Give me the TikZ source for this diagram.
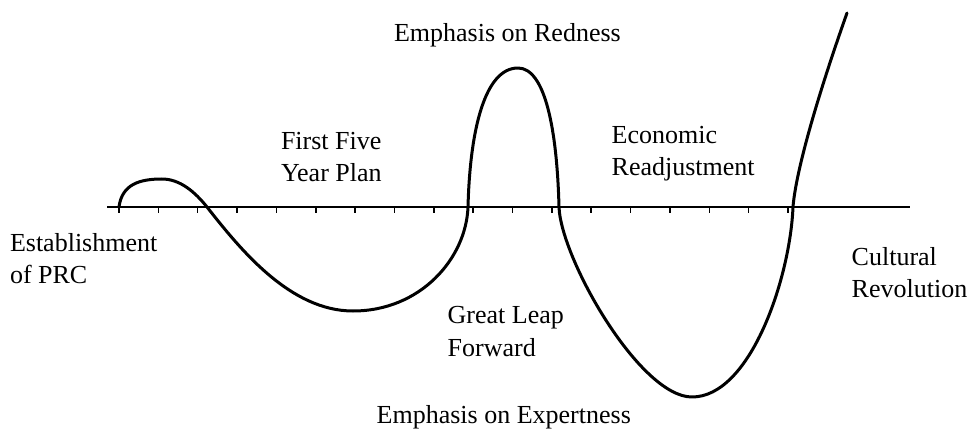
\documentclass[tikz,border=0pt]{standalone}
\usepackage{fontspec}
\setmainfont{Liberation Serif}
\begin{document}
\begin{tikzpicture}[x=1pt,y=1pt,
  lbl/.style={anchor=base west,inner sep=0pt,outer sep=0pt,align=left,
    font=\fontsize{26}{32.3}\selectfont},
  axisline/.style={line width=1.9pt},
  tickline/.style={line width=1.5pt},
  wave/.style={line width=3pt,line cap=round,line join=round}]
\useasboundingbox (0,0) rectangle (974,429);
% axis
\coordinate (axL) at (107,222);
\coordinate (axR) at (910,222);
\draw[axisline] (axL) -- (axR);
\foreach \i in {0,...,17}{
  \draw[tickline] ({119+39.35*\i},222) -- ({119+39.35*\i},216.5);
}
% curve key points
\coordinate (start) at (119,222);
\coordinate (bump) at (162,250);
\coordinate (c1) at (207,222);
\coordinate (m1) at (353,118);
\coordinate (c2) at (468,222);
\coordinate (p2) at (518,361);
\coordinate (c3) at (559,222);
\coordinate (m2) at (692,32);
\coordinate (c4) at (793,222);
\coordinate (fin) at (847,416);
\draw[wave] (start) .. controls (122,245) and (140,250) .. (bump)
  .. controls (180,250) and (195,237) .. (c1)
  .. controls (240,180) and (290,118) .. (m1)
  .. controls (420,118) and (466,170) .. (c2)
  .. controls (470,300) and (485,361) .. (p2)
  .. controls (545,361) and (557,300) .. (c3)
  .. controls (561,170) and (640,32) .. (m2)
  .. controls (750,32) and (790,150) .. (c4)
  .. controls (796,260) and (820,340) .. (fin);
% labels (multi-line nodes: base = last line's baseline)
\node[lbl] (red) at (394,387) {Emphasis on Redness};
\node[lbl] (ffyp) at (281,247.3) {First Five\\Year Plan};
\node[lbl] (econ) at (611.7,253.3) {Economic\\Readjustment};
\node[lbl] (prc) at (10,145.7) {Establishment\\of PRC};
\node[lbl] (glf) at (447.7,73) {Great Leap\\Forward};
\node[lbl] (cult) at (851.7,131.3) {Cultural\\Revolution};
\node[lbl] (exp) at (376.7,6) {Emphasis on Expertness};
\end{tikzpicture}
\end{document}
